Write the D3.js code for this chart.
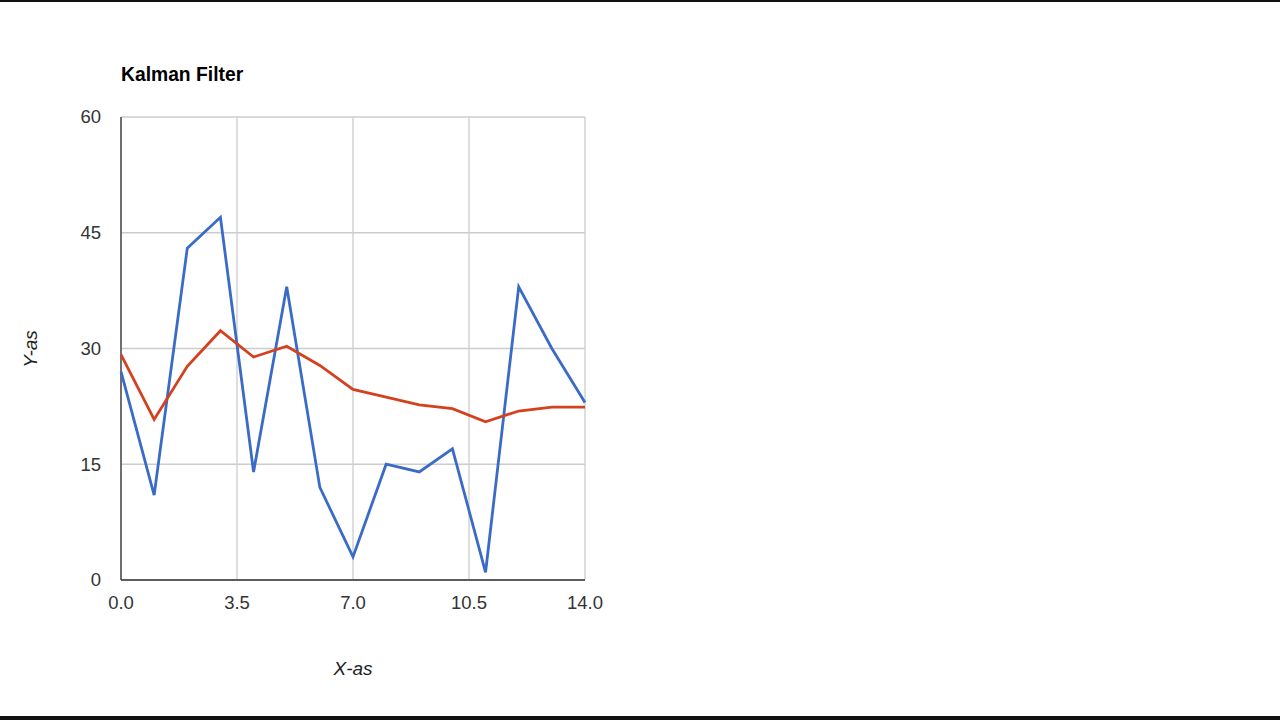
<!DOCTYPE html>
<html><head><meta charset="utf-8">
<script src="https://cdn.jsdelivr.net/npm/d3@7"></script>
<style>html,body{margin:0;padding:0;background:#fff;}svg{display:block;}</style>
</head><body>
<svg id="c" width="1280" height="720"></svg>
<script>
const xValues = [0,1,2,3,4,5,6,7,8,9,10,11,12,13,14];
const measured = [27,11,43,47,14,38,12,3,15,14,17,1,38,30,23];
const filtered = [29.2,20.8,27.7,32.3,28.9,30.3,27.8,24.7,23.7,22.7,22.2,20.5,21.9,22.4,22.4];
const xTicks = [0,3.5,7,10.5,14];
const yTicks = [0,15,30,45,60];
const title = "Kalman Filter";
const xTitle = "X-as";
const yTitle = "Y-as";

const svg = d3.select("#c");
const font = "'Liberation Sans', Arial, sans-serif";
const L=121, R=585, T=117, B=580;
const x = d3.scaleLinear().domain([0,14]).range([L,R]);
const y = d3.scaleLinear().domain([0,60]).range([B,T]);

// frame bars
svg.append("rect").attr("x",0).attr("y",0).attr("width",1280).attr("height",2).attr("fill","#111");
svg.append("rect").attr("x",0).attr("y",716).attr("width",1280).attr("height",4).attr("fill","#111");

// gridlines
const g = svg.append("g");
g.selectAll("line.h").data(yTicks).join("line")
  .attr("x1",L).attr("x2",R).attr("y1",d=>y(d)).attr("y2",d=>y(d))
  .attr("stroke","#cccccc").attr("stroke-width",1.3);
g.selectAll("line.v").data(xTicks).join("line")
  .attr("y1",T).attr("y2",B).attr("x1",d=>x(d)).attr("x2",d=>x(d))
  .attr("stroke","#cccccc").attr("stroke-width",1.3);

// axes lines
svg.append("line").attr("x1",L).attr("x2",L).attr("y1",T).attr("y2",B).attr("stroke","#333").attr("stroke-width",1.3);
svg.append("line").attr("x1",L).attr("x2",R).attr("y1",B).attr("y2",B).attr("stroke","#333").attr("stroke-width",1.3);

// tick labels
svg.append("g").selectAll("text").data(yTicks).join("text")
  .attr("x",101).attr("y",d=>y(d)).attr("dy","0.35em").attr("text-anchor","end")
  .attr("font-family",font).attr("font-size",18.5).attr("fill","#333").text(d=>d);
svg.append("g").selectAll("text").data(xTicks).join("text")
  .attr("x",d=>x(d)).attr("y",603).attr("dy","0.35em").attr("text-anchor","middle")
  .attr("font-family",font).attr("font-size",18.5).attr("fill","#333").text(d=>d.toFixed(1));

// lines
const line = d3.line().x((d,i)=>x(xValues[i])).y(d=>y(d));
svg.append("path").datum(measured).attr("d",line).attr("fill","none").attr("stroke","#3a6bc6").attr("stroke-width",2.8).attr("stroke-linejoin","miter");
svg.append("path").datum(filtered).attr("d",line).attr("fill","none").attr("stroke","#d4411f").attr("stroke-width",2.8).attr("stroke-linejoin","miter");

// titles
svg.append("text").attr("x",121).attr("y",81).attr("font-family",font).attr("font-weight","bold").attr("font-size",19.3).attr("fill","#000").text(title);
svg.append("text").attr("x",353).attr("y",668).attr("dy","0.35em").attr("text-anchor","middle").attr("font-family",font).attr("font-style","italic").attr("font-size",19).attr("fill","#222").text(xTitle);
svg.append("text").attr("transform","translate(30,349) rotate(-90)").attr("dy","0.35em").attr("text-anchor","middle").attr("font-family",font).attr("font-style","italic").attr("font-size",19).attr("fill","#222").text(yTitle);
</script>
</body></html>
